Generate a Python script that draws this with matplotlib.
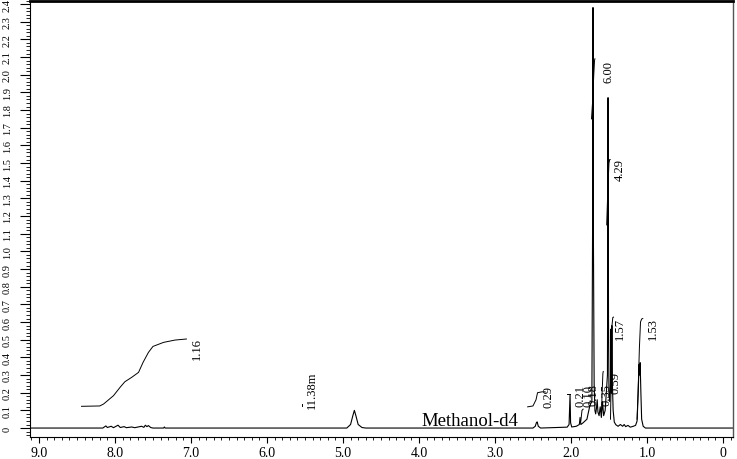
import numpy as np
import matplotlib
matplotlib.use("Agg")
import matplotlib.pyplot as plt
from matplotlib.ticker import MultipleLocator, FixedLocator

# 1H NMR spectrum (Methanol-d4)
spec_ppm = [9.12, 8.16, 8.12, 8.10, 8.05, 8.02, 7.96, 7.93, 7.88, 7.85, 7.78, 7.74,
            7.65, 7.62, 7.60, 7.58, 7.56, 7.53, 7.50, 7.36, 7.35, 7.34,
            4.95, 4.90, 4.87, 4.85, 4.83, 4.80, 4.75, 4.70,
            2.50, 2.47, 2.455, 2.445, 2.43, 2.40,
            2.05, 2.025, 2.012, 2.005, 1.99, 1.93, 1.89, 1.88, 1.87, 1.84, 1.79, 1.775, 1.75,
            1.725, 1.715, 1.71, 1.705, 1.695, 1.685, 1.675, 1.665, 1.655, 1.645, 1.63,
            1.615, 1.60, 1.585, 1.57, 1.55, 1.535, 1.52, 1.512, 1.506, 1.50, 1.49,
            1.48, 1.475, 1.468, 1.462, 1.455, 1.445, 1.43, 1.41, 1.38, 1.35, 1.32, 1.30,
            1.28, 1.25, 1.22, 1.18, 1.15, 1.13, 1.115, 1.105, 1.097, 1.09, 1.08, 1.07,
            1.05, 1.02, -0.2]
spec_int = [0.0, 0.0, 0.012, 0.003, 0.010, 0.002, 0.016, 0.003, 0.008, 0.002, 0.006, 0.002,
            0.010, 0.004, 0.016, 0.008, 0.014, 0.003, 0.0, 0.0, 0.006, 0.0,
            0.0, 0.02, 0.07, 0.10, 0.07, 0.02, 0.003, 0.0,
            0.0, 0.01, 0.03, 0.035, 0.01, 0.0,
            0.005, 0.02, 0.19, 0.03, 0.006, 0.01, 0.02, 0.06, 0.02, 0.03, 0.05, 0.08, 0.13,
            0.15, 1.2, 2.38, 1.1, 0.25, 0.10, 0.08, 0.11, 0.16, 0.09, 0.07,
            0.12, 0.06, 0.15, 0.07, 0.10, 0.2, 0.3, 1.87, 0.6, 0.2, 0.15,
            0.25, 0.56, 0.2, 0.58, 0.25, 0.1, 0.034, 0.019, 0.01, 0.02, 0.01, 0.02,
            0.008, 0.015, 0.005, 0.01, 0.015, 0.04, 0.2, 0.36, 0.3, 0.37, 0.2, 0.05,
            0.01, 0.0, 0.0]

# integral traces (ppm, height) and their values
int_traces = [
    ([8.44, 8.20, 8.15, 8.02, 7.93, 7.87, 7.78, 7.69, 7.63, 7.56, 7.50, 7.36, 7.21, 7.06],
     [0.123, 0.125, 0.136, 0.183, 0.232, 0.262, 0.287, 0.315, 0.372, 0.428, 0.462, 0.485, 0.498, 0.504]),
    ([5.54, 5.54], [0.122, 0.136]),
    ([2.57, 2.50, 2.46, 2.44, 2.38, 2.34], [0.12, 0.125, 0.16, 0.20, 0.205, 0.205]),
    ([2.05, 2.015], [0.19, 0.19]),
    ([1.87, 1.855, 1.84], [0.04, 0.10, 0.107]),
    ([1.73, 1.715, 1.70, 1.69, 1.685], [1.75, 1.85, 2.00, 2.08, 2.09]),
    ([1.53, 1.515, 1.50, 1.49, 1.485], [1.15, 1.35, 1.50, 1.52, 1.52]),
    ([1.60, 1.59, 1.58, 1.575], [0.07, 0.20, 0.31, 0.32]),
    ([1.48, 1.47, 1.46, 1.45, 1.44], [0.05, 0.30, 0.58, 0.625, 0.628]),
    ([1.13, 1.11, 1.10, 1.085, 1.07, 1.055], [0.05, 0.30, 0.45, 0.60, 0.617, 0.62]),
]
int_labels = ["1.16", "11.38m", "0.29", "0.21", "0.10", "0.18", "6.00", "4.29",
              "0.35", "0.59", "1.57", "1.53"]
int_label_ppm = [6.92, 5.41, 2.29, 1.88, 1.775, 1.70, 1.507, 1.36, 1.535, 1.41, 1.355, 0.92]
int_label_h = [0.453, 0.22, 0.181, 0.187, 0.187, 0.19, 2.02, 1.466, 0.19, 0.26, 0.569, 0.566]

x_ticks = [9.0, 8.0, 7.0, 6.0, 5.0, 4.0, 3.0, 2.0, 1.0, 0.0]
x_ticklabels = ["9.0", "8.0", "7.0", "6.0", "5.0", "4.0", "3.0", "2.0", "1.0", "0"]
y_ticks = [round(0.1 * i, 1) for i in range(25)]
y_ticklabels = ["0"] + [f"{v:.1f}" for v in y_ticks[1:]]

plt.rcParams['font.family'] = ['Liberation Serif', 'DejaVu Serif']

fig = plt.figure(figsize=(7.37, 4.6), dpi=100)
ax = fig.add_axes([30 / 737, 22.3 / 460, 703 / 737, 436.2 / 460])

# spectrum and integrals
ax.plot(spec_ppm, spec_int, color='black', linewidth=0.8)
for (px, py) in int_traces:
    ax.plot(px, py, color='black', linewidth=0.7)
for lab, lx, ly in zip(int_labels, int_label_ppm, int_label_h):
    ax.text(lx, ly, lab, rotation=90, fontsize=9, ha='center', va='center')

ax.text(3.33, 0.045, "Methanol-d4", fontsize=13.5, ha='center', va='center')

ax.set_xlim(9.118, -0.132)
ax.set_ylim(-0.049, 2.42)

ax.xaxis.set_major_locator(FixedLocator(x_ticks))
ax.set_xticklabels(x_ticklabels)
ax.xaxis.set_minor_locator(MultipleLocator(0.1))
ax.yaxis.set_major_locator(FixedLocator(y_ticks))
ax.set_yticklabels(y_ticklabels)
ax.yaxis.set_minor_locator(MultipleLocator(0.02))

ax.tick_params(axis='x', which='major', direction='out', length=4, width=0.8, pad=3, labelsize=10)
ax.tick_params(axis='x', which='minor', direction='out', length=2.5, width=0.6)
ax.tick_params(axis='y', which='major', direction='out', length=7, width=0.8, pad=6,
               labelsize=7.5, labelrotation=90)
ax.tick_params(axis='y', which='minor', direction='out', length=3, width=0.6)
for lbl in ax.get_yticklabels():
    lbl.set_verticalalignment('center')

ax.spines['top'].set_linewidth(2.0)
ax.spines['right'].set_linewidth(1.0)
ax.spines['right'].set_color('#555555')
ax.spines['left'].set_linewidth(0.8)
ax.spines['bottom'].set_linewidth(0.8)

fig.savefig("out.png", dpi=100)
